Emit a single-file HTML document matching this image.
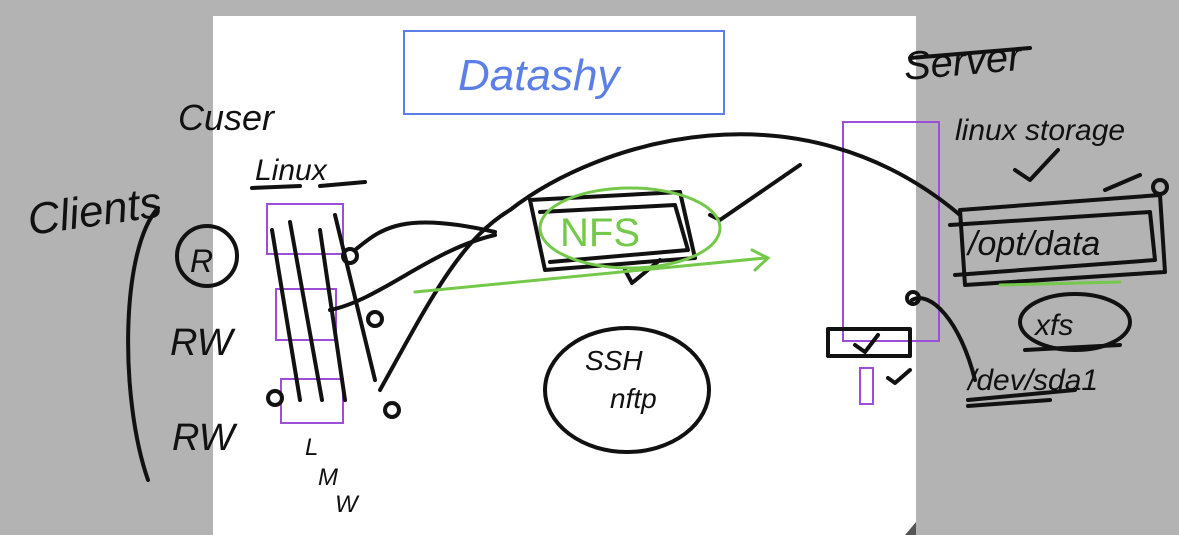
<!DOCTYPE html>
<html><head><meta charset="utf-8"><style>
html,body{margin:0;padding:0;background:#b3b3b3;}
svg{display:block}
text{font-family:"Liberation Sans",sans-serif;}
</style></head><body>
<svg width="1179" height="535" viewBox="0 0 1179 535" xmlns="http://www.w3.org/2000/svg">
<rect x="0" y="0" width="1179" height="535" fill="#b3b3b3"/>
<rect x="213" y="16" width="703" height="519" fill="#ffffff"/>
<polygon points="905,535 916,522 916,535" fill="#555"/>
<!-- Title box -->
<rect x="404" y="31" width="320" height="83" fill="none" stroke="#5b7fe6" stroke-width="2"/>
<text x="458" y="90" font-size="44" fill="#5b7fe6" font-style="italic">Datashy</text>
<!-- purple boxes -->
<g fill="none" stroke="#9c4fd6" stroke-width="2">
<rect x="267" y="204" width="76" height="50"/>
<rect x="276" y="289" width="60" height="51"/>
<rect x="281" y="379" width="62" height="44"/>
<rect x="843" y="122" width="96" height="219"/>
<rect x="860" y="368" width="13" height="36"/>
</g>
<g fill="none" stroke="#111" stroke-width="4" stroke-linecap="round" stroke-linejoin="round">
<!-- clients bracket -->
<path d="M158,208 C120,250 120,400 148,480"/>
<circle cx="207" cy="256" r="30"/>
<!-- lines in linux area -->
<path d="M272,230 L300,400"/><path d="M290,222 L322,400"/><path d="M320,230 L345,400"/><path d="M335,215 L375,380"/>
<path d="M252,188 L300,186"/><path d="M320,186 L365,182"/>
<!-- connectors -->
<path d="M355,250 C380,230 400,210 495,232"/>
<circle cx="350" cy="256" r="7"/>
<path d="M330,310 C380,300 430,250 495,235"/>
<circle cx="375" cy="319" r="7"/>
<path d="M380,390 C430,300 460,240 510,210 C600,140 800,80 960,215"/>
<circle cx="392" cy="410" r="7"/>
<circle cx="275" cy="398" r="7"/>
<!-- NFS box -->
<path d="M530,200 L680,192 L695,258 L545,270 Z"/>
<path d="M540,212 L675,205 L688,250 L550,262"/>
<path d="M710,215 L720,220 L800,165"/>
<path d="M625,270 L632,283 L660,260"/>
<!-- SSH ellipse -->
<ellipse cx="627" cy="390" rx="82" ry="62"/>
<!-- server side -->
<path d="M960,210 L1160,195 L1165,272 L965,285 Z"/>
<path d="M950,225 L1150,212 L1155,260 L955,275"/>
<path d="M1105,190 L1140,175"/><circle cx="1160" cy="187" r="7"/>
<path d="M1015,170 L1030,180 L1058,150"/>
<ellipse cx="1075" cy="322" rx="55" ry="28"/>
<path d="M1025,350 L1120,345"/>
<path d="M968,400 L1075,390"/><path d="M968,406 L1050,400"/>
<path d="M912,300 C930,290 960,320 975,380"/><circle cx="913" cy="298" r="6"/>
<rect x="828" y="329" width="82" height="27"/>
<path d="M855,345 L865,352 L878,335"/>
<path d="M888,378 L895,383 L910,370"/>
<path d="M910,58 L1030,48"/>
</g>
<!-- green -->
<g fill="none" stroke="#74c94a" stroke-width="3" stroke-linecap="round">
<ellipse cx="630" cy="228" rx="90" ry="40"/>
<path d="M415,292 L765,258"/><path d="M752,250 L768,258 L755,270"/>
<path d="M1000,285 L1120,282"/>
</g>
<text x="560" y="246" font-size="40" fill="#74c94a">NFS</text>
<g fill="#111" font-style="italic">
<text x="30" y="235" font-size="44" transform="rotate(-8 30 235)">Clients</text>
<text x="178" y="130" font-size="36">Cuser</text>
<text x="255" y="180" font-size="30">Linux</text>
<text x="190" y="272" font-size="32">R</text>
<text x="170" y="355" font-size="38">RW</text>
<text x="172" y="450" font-size="38">RW</text>
<text x="305" y="455" font-size="24">L</text>
<text x="318" y="485" font-size="24">M</text>
<text x="335" y="512" font-size="24">W</text>
<text x="585" y="370" font-size="28">SSH</text>
<text x="610" y="408" font-size="28">nftp</text>
<text x="905" y="80" font-size="40" transform="rotate(-5 905 80)">Server</text>
<text x="955" y="140" font-size="30">linux storage</text>
<text x="968" y="255" font-size="34">/opt/data</text>
<text x="1035" y="335" font-size="30">xfs</text>
<text x="968" y="390" font-size="30">/dev/sda1</text>
</g>
</svg>
</body></html>
